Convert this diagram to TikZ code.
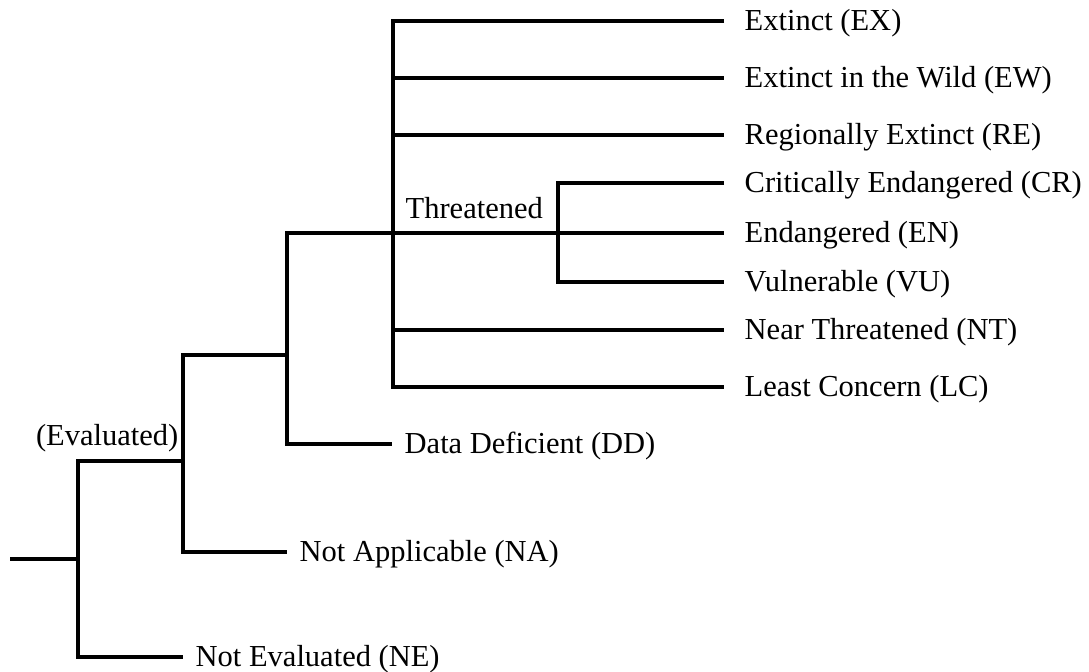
\documentclass[tikz,border=0pt]{standalone}
\usepackage{fontspec}
\setmainfont{Liberation Serif}

\begin{document}
\begin{tikzpicture}[x=0.5pt, y=-0.5pt, line width=1.7pt]
	\tikzset{lab/.style={font=\fontsize{15.25pt}{18pt}\selectfont, text height=.95em, text depth=.05em, inner ysep=0pt, inner xsep=5.5pt}}
	\tikzset{leaf/.style={lab, anchor=west, inner xsep=9.5pt}}
	\tikzset{low/.style={lab, anchor=west}}

	\useasboundingbox (0,0) rectangle (1089,671);

	    \coordinate (root) at (10,559);
	    \coordinate (s1) at (78,559);
	    \coordinate (s2) at (183,461);
	    \coordinate (s3) at (287,355);
	    \coordinate (s4) at (393,233);
	    \coordinate (s5) at (558,233);

	    \node[leaf] (ex) at (724,21) {Extinct (EX)};
	    \node[leaf] (ew) at (724,78) {Extinct in the Wild (EW)};
	    \node[leaf] (re) at (724,135) {Regionally Extinct (RE)};
	    \node[leaf] (cr) at (724,183) {Critically Endangered (CR)};
	    \node[leaf] (en) at (724,233) {Endangered (EN)};
	    \node[leaf] (vu) at (724,282) {Vulnerable (VU)};
	    \node[leaf] (nt) at (724,330) {Near Threatened (NT)};
	    \node[leaf] (lc) at (724,387) {Least Concern (LC)};

	    \node[low] (dd) at (392,444) {Data Deficient (DD)};
	    \node[low] (na) at (287,552) {Not Applicable (NA)};
	    \node[low] (ne) at (183,657) {Not Evaluated (NE)};

	    \node[lab, anchor=east, inner xsep=1.5pt] (evl) at (183,436.5) {(Evaluated)};
	    \node[lab, anchor=west] (thr) at (393,209.5) {Threatened};

	    \draw (root) -- (s1);
	    \draw (s2) -| (s1) |- (ne.west);
	    \draw (s3) -| (s2) |- (na.west);
	    \draw (s4) -| (s3) |- (dd.west);
	    \draw (ex.west) -| (s4) |- (lc.west);
	    \foreach \n in {ew,re,nt}
	    	\draw (s4 |- \n.west) -- (\n.west);
	    \draw (s4) -- (s5) -- (en.west);
	    \draw (cr.west) -| (s5) |- (vu.west);

\end{tikzpicture}
\end{document}
